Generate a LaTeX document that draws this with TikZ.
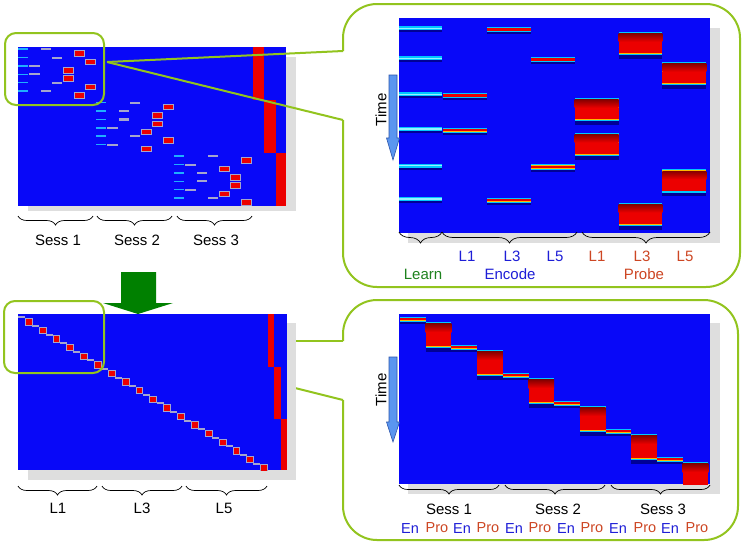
\documentclass[tikz,border=0pt]{standalone}
\usepackage{fontspec}
\setmainfont{Liberation Sans}
\usetikzlibrary{decorations.pathreplacing}
\definecolor{hblue}{RGB}{8,8,248}
\definecolor{hshadow}{RGB}{222,222,222}
\definecolor{hred}{RGB}{236,0,0}
\definecolor{hdred}{RGB}{135,0,0}
\definecolor{hcyan}{RGB}{0,200,255}
\definecolor{hcyanl}{RGB}{150,240,255}
\definecolor{hyel}{RGB}{255,185,0}
\definecolor{hdark}{RGB}{0,0,150}
\definecolor{sgray}{RGB}{165,165,205}
\definecolor{scyan}{RGB}{30,175,255}
\definecolor{zgreen}{RGB}{146,196,30}
\definecolor{agreen}{RGB}{0,128,0}
\definecolor{tlearn}{RGB}{30,130,30}
\definecolor{tenc}{RGB}{30,30,215}
\definecolor{tprobe}{RGB}{205,70,35}
\definecolor{tarrow}{RGB}{90,150,240}
\definecolor{tarrowd}{RGB}{45,85,170}
\newcommand\lrnbar[3]{%
  \fill[hdark] ({#1},{#2+1}) rectangle ({#1+#3},{#2+4});
  \fill[hcyan] ({#1},{#2-2}) rectangle ({#1+#3},{#2+2});
  \fill[hcyanl] ({#1},{#2-0.7}) rectangle ({#1+#3},{#2+0.7});
}
\newcommand\encbar[3]{%
  \fill[hdark] ({#1},{#2+5}) rectangle ({#1+#3},{#2+7.5});
  \fill[hcyan] ({#1},{#2}) rectangle ({#1+#3},{#2+5.4});
  \fill[hyel] ({#1},{#2+1}) rectangle ({#1+#3},{#2+4.4});
  \fill[hred] ({#1},{#2+1.6}) rectangle ({#1+#3},{#2+3.8});
}
\newcommand\prbblk[4]{%
  \fill[hdark] ({#1},{#2+#4-1}) rectangle ({#1+#3},{#2+#4+3.5});
  \fill[hcyan] ({#1},{#2}) rectangle ({#1+#3},{#2+#4});
  \fill[hyel] ({#1},{#2+1.1}) rectangle ({#1+#3},{#2+#4-1.5});
  \shade[top color=hdred,bottom color=hred] ({#1},{#2+1.8}) rectangle ({#1+#3},{#2+10});
  \fill[hred] ({#1},{#2+10}) rectangle ({#1+#3},{#2+#4-2});
}
\begin{document}
\begin{tikzpicture}[x=1pt,y=-1pt,
  lbl/.style={inner sep=0pt,font=\fontsize{15}{18}\selectfont},
  slbl/.style={inner sep=0pt,font=\fontsize{14.5}{17}\selectfont},
  bracestyle/.style={decorate,decoration={brace,mirror,amplitude=#1},line width=0.7pt},
  bracestyle/.default=9pt,
  zoombox/.style={draw=zgreen,line width=2pt,rounded corners=11pt},
  callout/.style={draw=zgreen,line width=2pt},
  bigbox/.style={draw=zgreen,line width=2pt,rounded corners=34pt},
  timearrow/.style={fill=tarrow,draw=tarrowd,line width=0.6pt}]
\useasboundingbox (0,0) rectangle (743,547);
\fill[white] (0,0) rectangle (743,547);

% ---------- coordinates for the callouts
\coordinate (zA) at (107,62);
\coordinate (bAt) at (343,51);
\coordinate (bAb) at (343,120);
\coordinate (zBt) at (296,341);
\coordinate (zBb) at (287,386);
\coordinate (bBt) at (343,341);
\coordinate (bBb) at (343,400);

% ---------- bottom callout lines (behind panel)
\draw[callout] (zBt) -- (bBt);
\draw[callout] (zBb) -- (bBb);

% ================= TOP LEFT PANEL
\fill[hshadow] (28,57) rectangle (296,211);
\fill[hblue] (18,47) rectangle (286,206);
\foreach \s in {0,1,2}{
  \foreach \r in {1,...,6}{
    \fill[scyan] ({18+78*\s},{49+53.5*\s+8.4*(\r-1)-0.7}) rectangle ({18+78*\s+10},{49+53.5*\s+8.4*(\r-1)+0.8});
  }
}
\foreach \s/\c/\r in {0/1/3,0/1/4,0/2/1,0/2/6,0/3/2,0/3/5,
                      1/1/4,1/1/6,1/2/2,1/2/3,1/3/1,1/3/5,
                      2/1/2,2/1/5,2/2/3,2/2/4,2/3/1,2/3/6}{
  \fill[sgray] ({18+78*\s+11.14*\c+0.3},{49+53.5*\s+8.4*(\r-1)-0.9}) rectangle ({18+78*\s+11.14*\c+10.8},{49+53.5*\s+8.4*(\r-1)+1.2});
  \filldraw[fill=hred,draw=sgray,line width=0.5pt] ({18+78*\s+11.14*(\c+3)+0.3},{49+53.5*\s+8.4*(\r-1)+1.5}) rectangle ({18+78*\s+11.14*(\c+3)+10.8},{49+53.5*\s+8.4*(\r-1)+7});
}
\fill[hred] (253,47) rectangle (264,100);
\fill[hred] (264,100) rectangle (276,153);
\fill[hred] (276,153) rectangle (286,206);
\node[zoombox,minimum width=99pt,minimum height=72pt,anchor=north west] (zoomA) at (4,32) {};
\draw[callout] (zA) -- (bAt);
\draw[callout] (zA) -- (bAb);

\draw[bracestyle] (18,216) -- (93,216);
\draw[bracestyle] (97,216) -- (172,216);
\draw[bracestyle] (177,216) -- (252,216);
\node[lbl] (s1) at (58,240) {Sess 1};
\node[lbl] (s2) at (137,240) {Sess 2};
\node[lbl] (s3) at (216,240) {Sess 3};

% ================= GREEN ARROW
\fill[agreen] (121,272) -- (156,272) -- (156,303) -- (173,303) -- (138,314) -- (103,303) -- (121,303) -- cycle;

% ================= BOTTOM LEFT PANEL
\fill[hshadow] (28,323) rectangle (296,480);
\fill[hblue] (18,314) rectangle (287,470);
\begin{scope}
\clip (18,314) rectangle (287,470);
\foreach \i in {0,...,17}{
  \fill[sgray] ({18+13.85*\i},{316.3+8.6*\i}) rectangle ({18+13.85*\i+7},{316.3+8.6*\i+2});
  \filldraw[fill=hred,draw=sgray,line width=0.4pt] ({18+13.85*\i+7},{316.3+8.6*\i+2}) rectangle ({18+13.85*\i+13.85},{316.3+8.6*\i+8.5});
}
\end{scope}
\fill[hred] (268,314) rectangle (274,367);
\fill[hred] (274,367) rectangle (281,419);
\fill[hred] (281,419) rectangle (287,470);
\node[zoombox,minimum width=100pt,minimum height=72pt,anchor=north west] (zoomB) at (3,300) {};

\draw[bracestyle] (18,486) -- (97,486);
\draw[bracestyle] (102,486) -- (182,486);
\draw[bracestyle] (186,486) -- (267,486);
\node[lbl] (l1) at (58,508) {L1};
\node[lbl] (l3) at (142,508) {L3};
\node[lbl] (l5) at (224,508) {L5};

% ================= TOP RIGHT CALLOUT
\draw[bigbox] (bAt) -- (343,4) -- (740,4) -- (740,287) -- (343,287) -- (bAb);
\fill[hshadow] (408,28) rectangle (720,243);
\fill[hblue] (399,18) rectangle (710,233);
\foreach \y in {28.3,58.3,94.3,129,165.7,199}{ \lrnbar{399}{\y}{43} }
\foreach \c/\y in {1/94.3,1/129,2/28.3,2/199,3/58.3,3/165.7}{ \encbar{399+43.9*\c}{\y-1.5}{43.9} }
\foreach \c/\y in {4/94.3,4/129,5/28.3,5/199,6/58.3,6/165.7}{ \prbblk{399+43.9*\c}{\y+3.5}{43.9}{23.5} }
\draw[timearrow] (389,75) -- (397,75) -- (397,138) -- (399.5,138) -- (393,160) -- (386.5,138) -- (389,138) -- cycle;
\node[lbl,rotate=90] (timeA) at (381,110) {Time};

\draw[bracestyle=11pt] (399,232) -- (442,232);
\draw[bracestyle=11pt] (442,232) -- (577,232);
\draw[bracestyle=11pt] (582,232) -- (710,232);
\node[lbl,text=tenc] (e1) at (467,256) {L1};
\node[lbl,text=tenc] (e3) at (512,256) {L3};
\node[lbl,text=tenc] (e5) at (555,256) {L5};
\node[lbl,text=tprobe] (p1) at (597,256) {L1};
\node[lbl,text=tprobe] (p3) at (642,256) {L3};
\node[lbl,text=tprobe] (p5) at (685,256) {L5};
\node[lbl,text=tlearn] (learn) at (423,274) {Learn};
\node[lbl,text=tenc] (encode) at (510,274) {Encode};
\node[lbl,text=tprobe] (probe) at (644,274) {Probe};

% ================= BOTTOM RIGHT CALLOUT
\draw[bigbox] (bBt) -- (343,300) -- (738,300) -- (738,540) -- (343,540) -- (bBb);
\fill[hshadow] (408,323) rectangle (720,494);
\fill[hblue] (399,314) rectangle (710,484);
\begin{scope}
\clip (399,314) rectangle (710,484);
\foreach \k in {0,...,5}{
  \encbar{400+51.4*\k}{316.5+28*\k}{25.7}
  \prbblk{425.7+51.4*\k}{322+28*\k}{25.7}{26}
}
\end{scope}
\draw[timearrow] (389,357) -- (397,357) -- (397,422) -- (399.5,422) -- (393,442) -- (386.5,422) -- (389,422) -- cycle;
\node[lbl,rotate=90] (timeB) at (381,390) {Time};

\draw[bracestyle=9pt] (399,485) -- (499,485);
\draw[bracestyle=9pt] (505,485) -- (605,485);
\draw[bracestyle=9pt] (611,485) -- (710,485);
\node[lbl] (ss1) at (449,509) {Sess 1};
\node[lbl] (ss2) at (558,509) {Sess 2};
\node[lbl] (ss3) at (663,509) {Sess 3};
\foreach \x/\t/\col [count=\n] in {410/En/tenc,437/Pro/tprobe,462/En/tenc,488/Pro/tprobe,514/En/tenc,540/Pro/tprobe,566/En/tenc,592/Pro/tprobe,618/En/tenc,645/Pro/tprobe,670/En/tenc,697/Pro/tprobe}{
  \node[slbl,text=\col] (ep\n) at (\x,528) {\t};
}
\end{tikzpicture}
\end{document}
